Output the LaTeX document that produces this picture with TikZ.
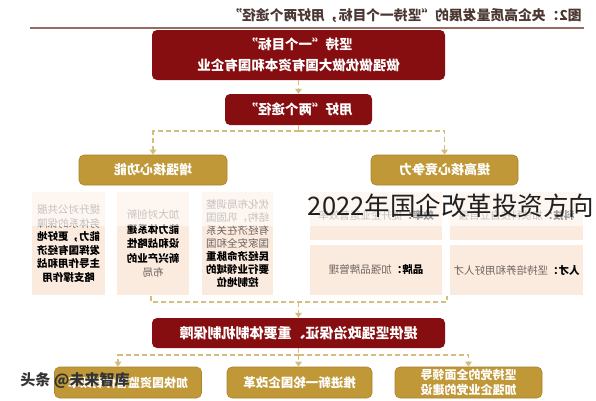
\documentclass[tikz,border=0pt]{standalone}
\usepackage{fontspec}
\setmainfont{Noto Sans CJK SC}
\usetikzlibrary{arrows.meta}
\definecolor{dred}{RGB}{135,14,16}
\definecolor{gold}{RGB}{192,152,56}
\definecolor{goldedge}{RGB}{172,132,42}
\definecolor{peach}{RGB}{251,234,222}
\definecolor{dashc}{RGB}{212,190,125}
\definecolor{rulec}{RGB}{150,108,98}
\definecolor{titlec}{RGB}{75,55,50}
\definecolor{bodyc}{RGB}{110,100,95}
\newcommand\hlt[1]{{\bfseries\color{black}#1}}
\newcommand\fs[2]{\fontsize{#1}{#2}\selectfont}
\begin{document}
\begin{tikzpicture}[x=1pt,y=-1pt,
  mirr/.style={xscale=-1},
  redbox/.style={fill=dred, rounded corners=5pt, text=white, font=\bfseries\fs{13.5}{21}, align=center, inner sep=0pt, mirr},
  goldbox/.style={fill=gold, draw=goldedge, line width=0.6pt, rounded corners=5pt, text=white, font=\bfseries\fs{12.5}{15.5}, align=center, inner sep=0pt, mirr},
  colbox/.style={fill=peach, inner sep=0pt, text=bodyc, font=\fs{10.5}{13.5}, align=center, mirr},
  link/.style={draw=dashc, line width=1.6pt, dash pattern=on 5pt off 3pt},
  arr/.style={link, -{Triangle[length=5pt,width=6.5pt]}}]
\useasboundingbox (0,0) rectangle (596,400);
\fill[white] (0,0) rectangle (596,400);

% title and rule
\node[mirr, text=titlec, font=\bfseries\fs{13.8}{16}, inner sep=0pt] (title) at (405,16) {图2：央企高质量发展的“坚持一个目标，用好两个途径”};
\draw[rulec, line width=2pt] (30,28) -- (584,28);

% main boxes
\node[redbox, minimum width=293pt, minimum height=50pt] (goal) at (298.5,55) {坚持“一个目标”\\做强做优做大国有资本和国有企业};
\node[redbox, minimum width=147pt, minimum height=31pt] (path) at (298.5,109.5) {用好“两个途径”};
\node[goldbox, minimum width=148pt, minimum height=30pt, font=\bfseries\fs{13}{15.5}] (func) at (153,170) {增强核心功能};
\node[goldbox, minimum width=147pt, minimum height=30pt, font=\bfseries\fs{13}{15.5}] (comp) at (444.5,170) {提高核心竞争力};

% left columns
\node[colbox, minimum width=73pt, minimum height=103pt] (c1) at (68.5,243.5) {提升对公共服\\务体系的保障\\\hlt{能力，更好地}\\\hlt{发挥国有经济}\\\hlt{主导作用和战}\\\hlt{略支撑作用}};
\node[colbox, minimum width=72pt, minimum height=103pt, font=\fs{10.5}{14.5}] (c2) at (153,243.5) {加大对创新\\\hlt{能力体系建}\\\hlt{设和战略性}\\\hlt{新兴产业的}\\布局};
\node[colbox, minimum width=71pt, minimum height=103pt, font=\fs{10.5}{13}] (c3) at (237.5,243.5) {优化布局调整\\结构，巩固国\\有经济在关系\\国家安全和国\\\hlt{民经济命脉重}\\\hlt{要行业领域的}\\\hlt{控制地位}};

% right items
\node[colbox, minimum width=132pt, minimum height=48pt] (eff) at (376,216) {\hlt{效率：}提升企业运营效率};
\node[colbox, minimum width=133pt, minimum height=48pt] (tech) at (516.5,216) {\hlt{科技：}加快科技自立自强};
\node[colbox, minimum width=132pt, minimum height=50pt] (brand) at (376,270) {\hlt{品牌：}加强品牌管理};
\node[colbox, minimum width=133pt, minimum height=50pt] (talent) at (516.5,270) {\hlt{人才：}坚持培养和用好人才};

% guarantee bar and bottom boxes
\node[redbox, minimum width=293pt, minimum height=30pt, font=\bfseries\fs{14}{16}] (guar) at (298.5,333) {提供坚强政治保证、重要体制机制保障};
\node[goldbox, minimum width=147pt, minimum height=31pt, font=\bfseries\fs{12}{15}] (b1) at (128,382.5) {加快国资监管体制改革};
\node[goldbox, minimum width=145pt, minimum height=31pt] (b2) at (299.5,382.5) {推进新一轮国企改革};
\node[goldbox, minimum width=147pt, minimum height=31pt, font=\bfseries\fs{12}{14.5}] (b3) at (468.5,382.5) {坚持党的全面领导\\加强企业党的建设};

% connectors
\draw[arr] (goal.south) -- (path.north);
\coordinate (j) at (298.5,131);
\coordinate (jl) at (153,131);
\coordinate (jr) at (444.5,131);
\draw[link] (path.south) -- (j);
\draw[arr] (j) -- (jl) -- (func.north);
\draw[arr] (j) -- (jr) -- (comp.north);

\coordinate (bl) at (151,296);
\coordinate (blc) at (151,302);
\coordinate (brc) at (447,302);
\coordinate (br) at (447,296);
\coordinate (bm) at (298.5,302);
\draw[link] (bl) -- (blc) -- (brc) -- (br);
\draw[arr] (bm) -- (guar.north);

\coordinate (k) at (298.5,355);
\coordinate (kl) at (118,355);
\coordinate (kr) at (468.5,355);
\draw[link] (guar.south) -- (k);
\draw[arr] (k) -- (kl) -- (kl |- b1.north);
\draw[arr] (k) -- (k |- b2.north);
\draw[arr] (k) -- (kr) -- (kr |- b3.north);

% overlay band, caption and watermark
\fill[white, opacity=0.6] (0,187) rectangle (596,226);
\node[text=black!88, font=\fs{25.5}{28}, inner sep=0pt] (ovl) at (451,206) {2022年国企改革投资方向};
\node[text=black!80, font=\bfseries\fs{15}{17}, inner sep=0pt] (wm) at (75,381) {头条 @未来智库};
\end{tikzpicture}
\end{document}
